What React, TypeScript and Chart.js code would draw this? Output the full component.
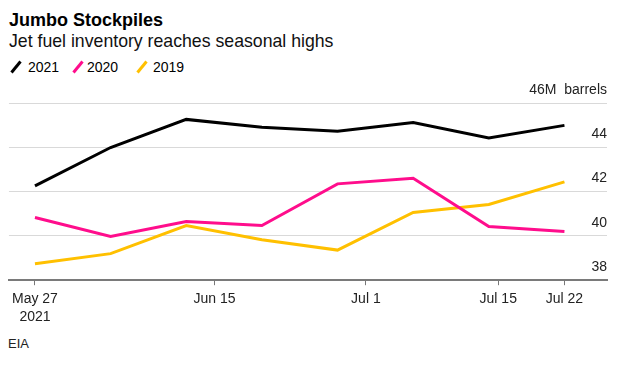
import React, { useEffect, useRef } from "react";
import { Chart, registerables } from "chart.js";

Chart.register(...registerables);

// Days since May 27, 2021
const dayOffsets = [0, 8, 16, 24, 32, 40, 48, 56];
const series2021 = [42.26, 43.99, 45.26, 44.9, 44.73, 45.12, 44.42, 44.99];
const series2020 = [40.83, 39.97, 40.65, 40.47, 42.35, 42.6, 40.42, 40.2];
const series2019 = [38.74, 39.2, 40.47, 39.83, 39.36, 41.06, 41.42, 42.44];

const xTickValues = [0, 19, 35, 49, 56];
const xTickLabels: (string | string[])[] = [["May 27", "2021"], "Jun 15", "Jul 1", "Jul 15", "Jul 22"];
const yTickValues = [38, 40, 42, 44, 46];

const COLORS = { y2021: "#000000", y2020: "#ff0d8c", y2019: "#ffc000" };
const FONT = "'Liberation Sans', Arial, Helvetica, sans-serif";

const legendItems = [
  { label: "2021", color: COLORS.y2021 },
  { label: "2020", color: COLORS.y2020 },
  { label: "2019", color: COLORS.y2019 },
];

export default function App() {
  const canvasRef = useRef<HTMLCanvasElement | null>(null);

  useEffect(() => {
    if (!canvasRef.current) return;
    const toPts = (vals: number[]) => vals.map((v, i) => ({ x: dayOffsets[i], y: v }));
    const chart = new Chart(canvasRef.current, {
      type: "line",
      data: {
        datasets: [
          { label: "2021", data: toPts(series2021), borderColor: COLORS.y2021, borderWidth: 3, pointRadius: 0, tension: 0, fill: false },
          { label: "2020", data: toPts(series2020), borderColor: COLORS.y2020, borderWidth: 3, pointRadius: 0, tension: 0, fill: false },
          { label: "2019", data: toPts(series2019), borderColor: COLORS.y2019, borderWidth: 3, pointRadius: 0, tension: 0, fill: false },
        ],
      },
      options: {
        animation: false,
        responsive: false,
        maintainAspectRatio: false,
        layout: { padding: { left: 0, right: 10, top: 25, bottom: 0 } },
        plugins: { legend: { display: false }, title: { display: false }, tooltip: { enabled: false } },
        scales: {
          x: {
            type: "linear",
            min: -2.75,
            max: 60.5,
            afterBuildTicks: (scale: any) => {
              scale.ticks = xTickValues.map((v) => ({ value: v }));
            },
            grid: { drawOnChartArea: false, drawTicks: true, tickLength: 5, tickColor: "#777777", tickWidth: 1 },
            border: { display: true, color: "#7a7a7a", width: 2 },
            ticks: {
              autoSkip: false,
              maxRotation: 0,
              padding: 4,
              color: "#222222",
              font: { family: FONT, size: 14, lineHeight: 1.35 },
              callback: (value: any) => {
                const idx = xTickValues.indexOf(Number(value));
                return idx >= 0 ? xTickLabels[idx] : "";
              },
            },
          },
          y: {
            type: "linear",
            position: "right",
            min: 38,
            max: 46,
            afterBuildTicks: (scale: any) => {
              scale.ticks = yTickValues.map((v) => ({ value: v }));
            },
            grid: { drawTicks: false, color: "#d9d9d9", lineWidth: 1 },
            border: { display: false },
            ticks: {
              mirror: true,
              padding: 0,
              labelOffset: -13,
              color: "#222222",
              font: { family: FONT, size: 14 },
              callback: (value: any) => (Number(value) === 46 ? "46M  barrels" : String(value)),
            },
          },
        },
      },
    });
    return () => chart.destroy();
  }, []);

  return (
    <div style={{ position: "relative", width: 609, height: 349, fontFamily: FONT, color: "#000" }}>
      <div style={{ position: "absolute", left: 1, top: 3, fontSize: 18, lineHeight: "18px", fontWeight: 700, whiteSpace: "nowrap" }}>
        Jumbo Stockpiles
      </div>
      <div style={{ position: "absolute", left: 1, top: 24, fontSize: 17.7, lineHeight: "18px", whiteSpace: "nowrap", color: "#111" }}>
        Jet fuel inventory reaches seasonal highs
      </div>
      <div style={{ position: "absolute", left: 0, top: 52, height: 16, width: 300 }}>
        {legendItems.map((it, i) => {
          const swX = [1.5, 63.5, 127.5][i];
          const txX = [20, 79, 145][i];
          return (
            <React.Fragment key={it.label}>
              <svg style={{ position: "absolute", left: swX, top: 0 }} width={13} height={14}>
                <line x1={1.5} y1={12.5} x2={10.5} y2={1.5} stroke={it.color} strokeWidth={3} />
              </svg>
              <span style={{ position: "absolute", left: txX, top: 0, fontSize: 14, lineHeight: "14px", whiteSpace: "nowrap" }}>
                {it.label}
              </span>
            </React.Fragment>
          );
        })}
      </div>
      <canvas ref={canvasRef} width={609} height={253} style={{ position: "absolute", left: 0, top: 70, width: 609, height: 253 }} />
      <div style={{ position: "absolute", left: 0, top: 329, fontSize: 13, lineHeight: "13px", color: "#222" }}>EIA</div>
    </div>
  );
}
